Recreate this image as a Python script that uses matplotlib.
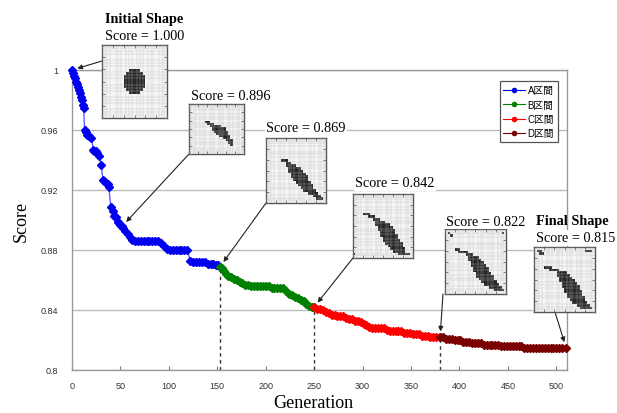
import numpy as np
import matplotlib.pyplot as plt
from matplotlib.colors import ListedColormap
from matplotlib.lines import Line2D

########################################################################
# Best score per generation, split into the four search phases

gen_a = [0, 1, 2, 3, 4, 5, 6, 7, 8, 9, 10, 11, 12, 13, 14, 16, 18, 20,
         22, 23, 25, 26, 28, 30, 32, 33, 35, 37, 38, 40, 42, 43, 45, 47, 48,
         50, 52, 53, 55, 58, 60, 62, 65, 68, 71, 74, 77, 80, 83, 86, 89, 92,
         95, 98, 101, 104, 107, 110, 113, 116, 119, 122, 125, 128, 131, 134,
         137, 140, 143, 146, 149, 151, 153]
score_a = [1.000, 0.998, 0.996, 0.995, 0.992, 0.991, 0.989, 0.987, 0.985,
           0.982, 0.980, 0.977, 0.975, 0.960, 0.959, 0.957, 0.956, 0.955,
           0.947, 0.946, 0.946, 0.945, 0.943, 0.937, 0.927, 0.926, 0.925,
           0.924, 0.922, 0.909, 0.906, 0.903, 0.902, 0.899, 0.899, 0.897,
           0.896, 0.895, 0.893, 0.891, 0.889, 0.887, 0.886, 0.886, 0.886,
           0.886, 0.886, 0.886, 0.886, 0.886, 0.886, 0.885, 0.883, 0.881,
           0.880, 0.880, 0.880, 0.880, 0.880, 0.880, 0.880, 0.873, 0.872,
           0.872, 0.872, 0.872, 0.872, 0.871, 0.871, 0.871, 0.870, 0.870,
           0.869]

gen_b = [153, 155, 157, 159, 161, 164, 167, 170, 173, 176, 179, 182, 185,
         188, 191, 194, 197, 200, 203, 206, 209, 212, 215, 218, 221, 224,
         227, 230, 233, 236, 239, 242, 245, 248, 250]
score_b = [0.869, 0.868, 0.866, 0.864, 0.863, 0.862, 0.861, 0.860, 0.859,
           0.858, 0.857, 0.857, 0.856, 0.856, 0.856, 0.856, 0.856, 0.856,
           0.856, 0.855, 0.855, 0.855, 0.855, 0.855, 0.853, 0.851, 0.850,
           0.849, 0.848, 0.847, 0.846, 0.844, 0.843, 0.842, 0.842]

gen_c = [250, 253, 256, 259, 262, 265, 268, 271, 274, 277, 280, 283, 286,
         289, 292, 295, 298, 301, 304, 307, 310, 313, 316, 319, 322, 325,
         328, 331, 334, 337, 340, 343, 346, 349, 352, 355, 358, 361, 364,
         367, 370, 373, 376, 380]
score_c = [0.842, 0.841, 0.841, 0.840, 0.839, 0.838, 0.837, 0.837, 0.836,
           0.836, 0.836, 0.835, 0.834, 0.834, 0.833, 0.833, 0.832, 0.831,
           0.830, 0.829, 0.828, 0.828, 0.828, 0.828, 0.828, 0.827, 0.826,
           0.826, 0.826, 0.826, 0.826, 0.825, 0.825, 0.825, 0.824, 0.824,
           0.824, 0.823, 0.823, 0.823, 0.822, 0.822, 0.822, 0.822]

gen_d = [380, 383, 386, 389, 392, 395, 398, 401, 404, 407, 410, 413, 416,
         419, 422, 425, 428, 431, 434, 437, 440, 443, 446, 449, 452, 455,
         458, 461, 464, 467, 470, 473, 476, 479, 482, 485, 488, 491, 494,
         497, 500, 503, 506, 510]
score_d = [0.822, 0.822, 0.821, 0.821, 0.821, 0.820, 0.820, 0.820, 0.819,
           0.819, 0.819, 0.818, 0.818, 0.818, 0.818, 0.817, 0.817, 0.817,
           0.817, 0.817, 0.817, 0.816, 0.816, 0.816, 0.816, 0.816, 0.816,
           0.816, 0.816, 0.815, 0.815, 0.815, 0.815, 0.815, 0.815, 0.815,
           0.815, 0.815, 0.815, 0.815, 0.815, 0.815, 0.815, 0.815]

phase_labels = ["A区間", "B区間", "C区間", "D区間"]
phase_colors = ["#0000f0", "#008000", "#ff0000", "#7a0000"]
phase_lines = ["#6060ff", "#008000", "#ff0000", "#7a0000"]

# phase boundaries
boundary_gen = [153, 250, 380]
boundary_score = [0.869, 0.842, 0.822]

########################################################################
# Cell layouts of the shapes shown along the curve: (row, first col, last col)

shape_initial = [(8, 10, 13), (9, 9, 14), (10, 8, 15), (11, 8, 15),
                 (12, 8, 15), (13, 8, 15), (14, 9, 14), (15, 10, 13)]
shape_896 = [(8, 7, 8), (9, 8, 10), (10, 9, 13), (11, 10, 15), (12, 10, 15),
             (13, 11, 16), (14, 12, 16), (15, 13, 17), (16, 15, 17),
             (17, 16, 18), (18, 17, 18), (19, 18, 18)]
shape_869 = [(8, 6, 8), (9, 8, 9), (10, 8, 11), (11, 9, 13), (12, 9, 14),
             (13, 10, 15), (14, 10, 16), (15, 11, 16), (16, 12, 17),
             (17, 13, 18), (18, 14, 18), (19, 15, 19), (20, 17, 20),
             (21, 19, 21), (22, 20, 22)]
shape_842 = [(7, 4, 6), (8, 6, 8), (9, 8, 10), (10, 9, 12), (11, 9, 14),
             (12, 10, 15), (13, 10, 16), (14, 11, 16), (15, 11, 17),
             (16, 12, 17), (17, 12, 18), (18, 13, 19), (19, 14, 19),
             (20, 15, 20), (21, 16, 20), (22, 18, 22), (22, 0, 0)]
shape_822 = [(1, 1, 1), (1, 22, 22), (2, 2, 2), (7, 4, 5), (8, 5, 8),
             (9, 8, 10), (10, 9, 12), (11, 9, 13), (12, 10, 14),
             (13, 10, 15), (14, 11, 16), (15, 11, 16), (16, 12, 17),
             (17, 12, 18), (18, 13, 18), (19, 14, 19), (20, 15, 20),
             (21, 17, 21), (22, 19, 22)]
shape_final = [(1, 1, 2), (1, 20, 22), (2, 2, 3), (7, 4, 6), (8, 6, 9),
               (9, 9, 12), (10, 9, 13), (11, 10, 14), (12, 10, 15),
               (13, 11, 16), (14, 11, 17), (15, 12, 17), (16, 12, 18),
               (17, 13, 18), (18, 13, 19), (19, 14, 19), (20, 15, 20),
               (21, 17, 21), (22, 18, 22)]

# annotated generations
note_gen = [0, 52, 153, 250, 380, 510]
note_score = [1.000, 0.896, 0.869, 0.842, 0.822, 0.815]
note_title = ["Initial Shape", None, None, None, None, "Final Shape"]
note_shape = [shape_initial, shape_896, shape_869, shape_842, shape_822,
              shape_final]

########################################################################
# Layout (pixel boxes, measured from the top-left of the figure)

W, H = 617, 414
GRID = 24


def fig_rect(x0, y0, x1, y1):
    return [x0 / W, 1 - y1 / H, (x1 - x0) / W, (y1 - y0) / H]


inset_box = [(102, 46, 167, 119), (189, 105, 244, 155), (266, 139, 326, 204),
             (353, 195, 413, 259), (445, 230, 506, 295), (534, 248, 595, 313)]
text_pos = [(105, 37), (191, 96), (266, 129), (355, 184), (446, 222),
            (536, 239)]
arrow_from = [(102, 62), (189, 155), (266, 204), (353, 259), (443, 295),
              (555, 313)]

serif = "Liberation Serif"
sans = ["Liberation Sans", "Noto Sans CJK JP", "DejaVu Sans"]

fig = plt.figure(figsize=(W / 100, H / 100), dpi=100)
ax = fig.add_axes(fig_rect(72, 71, 567, 371))

series = [(gen_a, score_a), (gen_b, score_b), (gen_c, score_c),
          (gen_d, score_d)]
for (g, s), mc, lc in zip(series, phase_colors, phase_lines):
    ax.plot(g, s, color=lc, lw=1.0, marker="D", ms=3.6, mfc=mc, mec=mc,
            clip_on=False, zorder=3)

ax.vlines(boundary_gen, 0.8, boundary_score, colors="#333333", lw=1.0,
          linestyles=(0, (2.5, 2.5)), zorder=2)

ax.set_xlim(0, 511)
ax.set_ylim(0.8, 1.0)
ax.set_xticks(np.arange(0, 501, 50))
ax.set_yticks([0.8, 0.84, 0.88, 0.92, 0.96, 1.0])
ax.set_yticklabels(["0.8", "0.84", "0.88", "0.92", "0.96", "1"])
ax.grid(axis="y", color="#bdbdbd", lw=1.0)
ax.set_axisbelow(True)
for sp in ax.spines.values():
    sp.set_color("#9a9a9a")
    sp.set_linewidth(1.0)
ax.tick_params(axis="x", direction="in", length=3, color="#777777",
               labelsize=6.5, labelcolor="#333333", pad=8)
ax.tick_params(axis="y", length=0, labelsize=6.5, labelcolor="#333333",
               pad=10)
for lbl in ax.get_xticklabels() + ax.get_yticklabels():
    lbl.set_family(sans)

ax.set_xlabel("Generation", family=serif, fontsize=13)
ax.set_ylabel("Score", family=serif, fontsize=13)
ax.xaxis.set_label_coords(0.487, -0.08)
ax.yaxis.set_label_coords(-0.085, 0.5)

handles = [Line2D([], [], color=c, lw=0.8, marker="o", ms=3, mfc=c, mec=c)
           for c in phase_colors]
leg = ax.legend(handles, phase_labels, loc="upper right",
                bbox_to_anchor=(0.982, 0.962), prop={"family": sans, "size": 7},
                frameon=True, fancybox=False, framealpha=1, edgecolor="#555555",
                handlelength=2.2, handletextpad=0.3, labelspacing=0.45,
                borderpad=0.4, borderaxespad=0)
leg.get_frame().set_linewidth(0.9)

########################################################################
# Shape insets with their score labels and arrows

cell_cmap = ListedColormap(["#f6f6f6", "#262626"])

for i in range(len(note_gen)):
    mask = np.zeros((GRID, GRID))
    for r, c0, c1 in note_shape[i]:
        mask[r, c0:c1 + 1] = 1

    iax = fig.add_axes(fig_rect(*inset_box[i]))
    iax.imshow(mask, cmap=cell_cmap, vmin=0, vmax=1, interpolation="nearest",
               extent=(0, GRID, GRID, 0), aspect="auto")
    iax.set_xticks(np.arange(0, GRID + 1, 4))
    iax.set_yticks(np.arange(0, GRID + 1, 4))
    iax.set_xticks(np.arange(GRID + 1), minor=True)
    iax.set_yticks(np.arange(GRID + 1), minor=True)
    iax.grid(which="minor", color="#bcbcbc", lw=0.25)
    iax.set_axisbelow(False)
    iax.tick_params(which="major", direction="in", length=2, width=0.6,
                    color="#666666", labelbottom=False, labelleft=False,
                    top=True, right=True)
    iax.tick_params(which="minor", length=0)
    for sp in iax.spines.values():
        sp.set_color("#555555")
        sp.set_linewidth(1.0)

    tx, ty = text_pos[i]
    fig.text(tx / W, 1 - ty / H, f"Score = {note_score[i]:.3f}",
             ha="left", va="center", family=serif, fontsize=10.3,
             bbox=dict(fc="white", ec="none", pad=1.0), zorder=5)
    if note_title[i]:
        fig.text(tx / W, 1 - (ty - 17) / H, note_title[i], ha="left",
                 va="center", family=serif, fontsize=10.3, weight="bold",
                 zorder=5)

    ax_, ay_ = arrow_from[i]
    ax.annotate("", xy=(note_gen[i], note_score[i]), xycoords="data",
                xytext=(ax_, H - ay_), textcoords="figure pixels",
                arrowprops=dict(arrowstyle="-|>", color="#222222", lw=0.8,
                                mutation_scale=7, shrinkA=0, shrinkB=4),
                annotation_clip=False, zorder=6)

fig.savefig("out.png", dpi=100, facecolor="white")
